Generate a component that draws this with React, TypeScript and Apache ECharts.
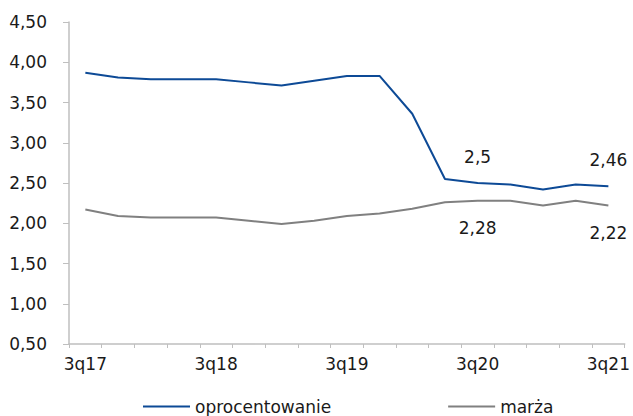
import React, { useEffect, useRef } from "react";
import * as echarts from "echarts";

const categories = [
  "3q17", "4q17", "1q18", "2q18", "3q18", "4q18", "1q19", "2q19", "3q19",
  "4q19", "1q20", "2q20", "3q20", "4q20", "1q21", "2q21", "3q21",
];
const oprocentowanie = [3.87, 3.81, 3.79, 3.79, 3.79, 3.75, 3.71, 3.77, 3.83, 3.83, 3.36, 2.55, 2.5, 2.48, 2.42, 2.48, 2.46];
const marza = [2.17, 2.09, 2.07, 2.07, 2.07, 2.03, 1.99, 2.03, 2.09, 2.12, 2.18, 2.26, 2.28, 2.28, 2.22, 2.28, 2.22];
const labelledIndices = [12, 16];

const FONT = "DejaVu Sans";

export default function App() {
  const ref = useRef<HTMLDivElement>(null);
  useEffect(() => {
    if (!ref.current) return;
    const chart = echarts.init(ref.current, undefined, { renderer: "svg" });
    const mk = (vals: number[], pos: "top" | "bottom", dist: number) =>
      vals.map((v, i) =>
        labelledIndices.includes(i)
          ? {
              value: v,
              label: {
                show: true,
                position: pos,
                distance: dist,
                formatter: () => String(v).replace(".", ","),
                color: "#1a1a1a",
                fontSize: 17,
                fontFamily: FONT,
              },
            }
          : v
      );
    chart.setOption({
      animation: false,
      backgroundColor: "#ffffff",
      textStyle: { fontFamily: FONT },
      grid: { left: 69, right: 8, top: 22, bottom: 72, containLabel: false },
      legend: {
        left: 143,
        top: 398,
        itemGap: 117,
        itemWidth: 47,
        itemHeight: 2,
        icon: "rect",
        padding: 0,
        textStyle: { fontSize: 17, color: "#1a1a1a", fontFamily: FONT },
        data: ["oprocentowanie", "marża"],
      },
      xAxis: {
        type: "category",
        data: categories,
        boundaryGap: true,
        axisLine: { lineStyle: { color: "#bfbfbf", width: 1.5 } },
        axisTick: { show: true, interval: 0, length: 4, lineStyle: { color: "#bfbfbf" } },
        axisLabel: { interval: 3, margin: 11, fontSize: 17, color: "#1a1a1a", fontFamily: FONT },
      },
      yAxis: {
        type: "value",
        min: 0.5,
        max: 4.5,
        interval: 0.5,
        axisLine: { show: true, lineStyle: { color: "#bfbfbf", width: 1.5 } },
        axisTick: { show: true, length: 6, lineStyle: { color: "#bfbfbf" } },
        splitLine: { show: false },
        axisLabel: {
          margin: 22,
          fontSize: 17,
          color: "#1a1a1a",
          fontFamily: FONT,
          formatter: (v: number) => v.toFixed(2).replace(".", ","),
        },
      },
      series: [
        {
          name: "oprocentowanie",
          type: "line",
          data: mk(oprocentowanie, "top", 18),
          symbol: "circle",
          symbolSize: 0,
          showSymbol: true,
          lineStyle: { color: "#0d4a96", width: 2 },
          itemStyle: { color: "#0d4a96" },
        },
        {
          name: "marża",
          type: "line",
          data: mk(marza, "bottom", 19),
          symbol: "circle",
          symbolSize: 0,
          showSymbol: true,
          lineStyle: { color: "#808080", width: 2 },
          itemStyle: { color: "#808080" },
        },
      ],
    });
    return () => chart.dispose();
  }, []);
  return <div ref={ref} style={{ width: 633, height: 416, position: "absolute", left: 0, top: 0 }} />;
}
